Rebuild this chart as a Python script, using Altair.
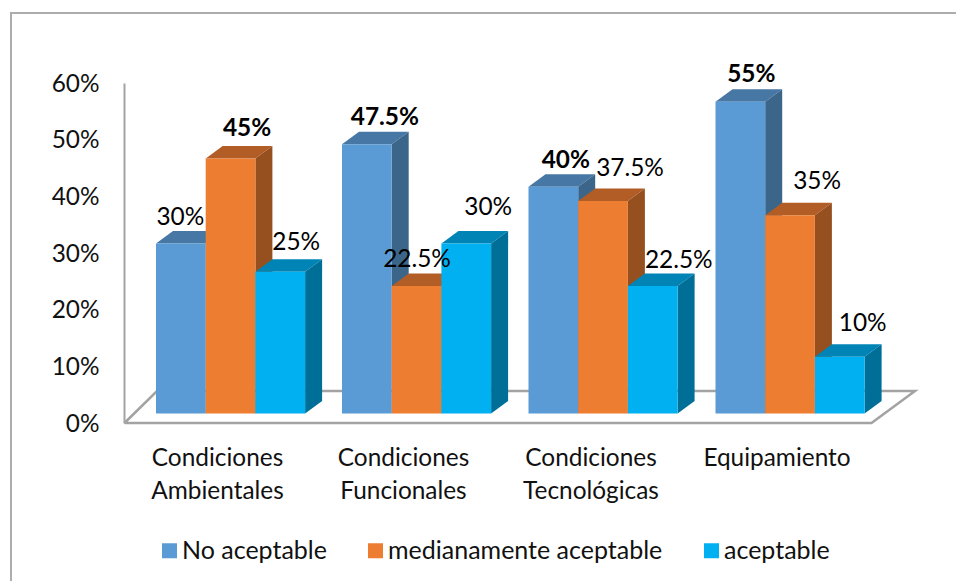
import altair as alt
import pandas as pd

# Chart values
categories = ["Condiciones\nAmbientales", "Condiciones\nFuncionales", "Condiciones\nTecnológicas", "Equipamiento"]
series = ["No aceptable", "medianamente aceptable", "aceptable"]
no_aceptable = [30, 47.5, 40, 55]
medianamente = [45, 22.5, 37.5, 35]
aceptable = [25, 30, 22.5, 10]
bold_labels = [
    [False, True, False],
    [True, False, False],
    [True, False, False],
    [True, False, False],
]

# Fill colours per series: front, top and side faces
front_colors = ["#5B9BD5", "#ED7D31", "#00B0F0"]
top_colors = ["#4777A5", "#B15D25", "#0084B5"]
side_colors = ["#3B6689", "#964F1F", "#006F98"]

# Layout of the pseudo-3D scene, in x-scale units and percentage points
PX_PER_PCT = 340 / 60
FONT = "Lato"
FONT_SIZE = 24.4
INK = "#111111"
GREY = "#A3A3A3"
group_start = [31, 217, 403.5, 590.5]
bar_w = 49.7
depth_x = 17
depth_y = 12.5 / PX_PER_PCT
base = 9.5 / PX_PER_PCT
floor_back = 32 / PX_PER_PCT

# Label shift from the centre of each bar's front and its top edge, in pixels
label_dx = [[-0.5, 16.5, 16], [18, 0.5, 22], [12.5, 27, 26], [11, 27, 23]]
label_dy = [[26, 29.7, 29], [26.5, 26.2, 35.7], [26, 32, 25], [27, 32.7, 33]]
category_x = [92.5, 278.5, 466, 652]

columns = [no_aceptable, medianamente, aceptable]
front_rows, face_rows, label_rows = [], [], []
for g, start in enumerate(group_start):
    for s, name in enumerate(series):
        v = columns[s][g]
        x0 = start + s * bar_w
        x1 = x0 + bar_w
        top = base + v
        front_rows.append({"x": x0, "x2": x1, "y": base, "y2": top, "serie": name})
        face = f"{g}-{s}"
        # The top face is emitted first, then the side, left to right
        for px, lo, hi in [
            (x0, top, top),
            (x0 + depth_x, top, top + depth_y),
            (x1, top, top + depth_y),
            (x1 + depth_x, top + depth_y, top + depth_y),
        ]:
            face_rows.append({"x": px, "y": lo, "y2": hi, "face": face + "-top", "fill": top_colors[s]})
        for px, lo, hi in [
            (x1, base, top),
            (x1 + depth_x, base + depth_y, top + depth_y),
        ]:
            face_rows.append({"x": px, "y": lo, "y2": hi, "face": face + "-side", "fill": side_colors[s]})
        label_rows.append({
            "x": (x0 + x1) / 2 + label_dx[g][s],
            "y": top + label_dy[g][s] / PX_PER_PCT,
            "text": f"{v:g}%",
            "bold": bold_labels[g][s],
        })

x_scale = alt.Scale(domain=[0, 790], range=[0, 790])
y_scale = alt.Scale(domain=[0, 60], nice=False, zero=False)
X = alt.X("x:Q", scale=x_scale, axis=None)
Y = alt.Y(
    "y:Q",
    scale=y_scale,
    title=None,
    axis=alt.Axis(
        values=[0, 10, 20, 30, 40, 50, 60],
        labelExpr="datum.value + '%'",
        grid=False,
        ticks=False,
        offset=1,
        labelOffset=1,
        labelPadding=25,
        labelFont=FONT,
        labelFontSize=FONT_SIZE,
        labelColor=INK,
        domainColor=GREY,
        domainWidth=2,
    ),
)

# Floor outline of the 3D box
floor_df = pd.DataFrame({
    "x": [-0.5, 746.5, 790, 32, -0.5],
    "y": [0, 0, floor_back, floor_back, 0],
    "i": [0, 1, 2, 3, 4],
})
floor = alt.Chart(floor_df).mark_line(color=GREY, strokeWidth=2.5).encode(
    x=X,
    y=Y,
    order="i:Q",
)

faces = alt.Chart(pd.DataFrame(face_rows)).mark_area(opacity=1).encode(
    x=X,
    y=Y,
    y2="y2:Q",
    detail="face:N",
    color=alt.Color("fill:N", scale=None, legend=None),
)

fronts = alt.Chart(pd.DataFrame(front_rows)).mark_rect().encode(
    x=X,
    x2="x2:Q",
    y=Y,
    y2="y2:Q",
    color=alt.Color(
        "serie:N",
        scale=alt.Scale(domain=series, range=front_colors),
        sort=series,
        legend=alt.Legend(
            title=None,
            orient="none",
            legendX=32,
            legendY=455,
            direction="horizontal",
            columns=3,
            columnPadding=36,
            symbolType="square",
            symbolSize=225,
            symbolStrokeWidth=0,
            labelOffset=0,
            labelFont=FONT,
            labelFontSize=25,
            labelColor=INK,
            labelLimit=400,
            padding=0,
        ),
    ),
)


def value_text(rows, weight):
    return alt.Chart(pd.DataFrame(rows)).mark_text(
        font=FONT, fontSize=FONT_SIZE, fontWeight=weight, color="#000000",
        baseline="middle", align="center",
    ).encode(
        x=X,
        y=Y,
        text="text:N",
    )


value_labels = value_text([r for r in label_rows if not r["bold"]], "normal")
bold_value_labels = value_text([r for r in label_rows if r["bold"]], "bold")

category_df = pd.DataFrame({
    "x": category_x,
    "y": [-24 / PX_PER_PCT] * 4,
    "text": categories,
})
category_labels = alt.Chart(category_df).mark_text(
    font=FONT, fontSize=FONT_SIZE, color=INK, baseline="top", align="center",
    lineBreak="\n", lineHeight=33,
).encode(
    x=X,
    y=Y,
    text="text:N",
)

# Open chart border: top and left edges only
anchor = pd.DataFrame({"a": [0]})
frame_top = alt.Chart(anchor).mark_rule(color="#ADADAD", strokeWidth=2).encode(
    x=alt.value(-115), x2=alt.value(831), y=alt.value(-70)
)
frame_left = alt.Chart(anchor).mark_rule(color="#ADADAD", strokeWidth=2).encode(
    x=alt.value(-114), y=alt.value(-70), y2=alt.value(498)
)

chart = alt.layer(
    frame_top, frame_left, floor, faces, fronts,
    value_labels, bold_value_labels, category_labels,
).resolve_scale(color="independent").properties(
    width=790,
    height=340,
    padding={"left": 125, "top": 83, "right": 41, "bottom": 158},
    autosize=alt.AutoSizeParams(type="none"),
    background="white",
).configure_view(stroke=None)

chart.save("out.html", embed_options={"renderer": "svg", "actions": False})
